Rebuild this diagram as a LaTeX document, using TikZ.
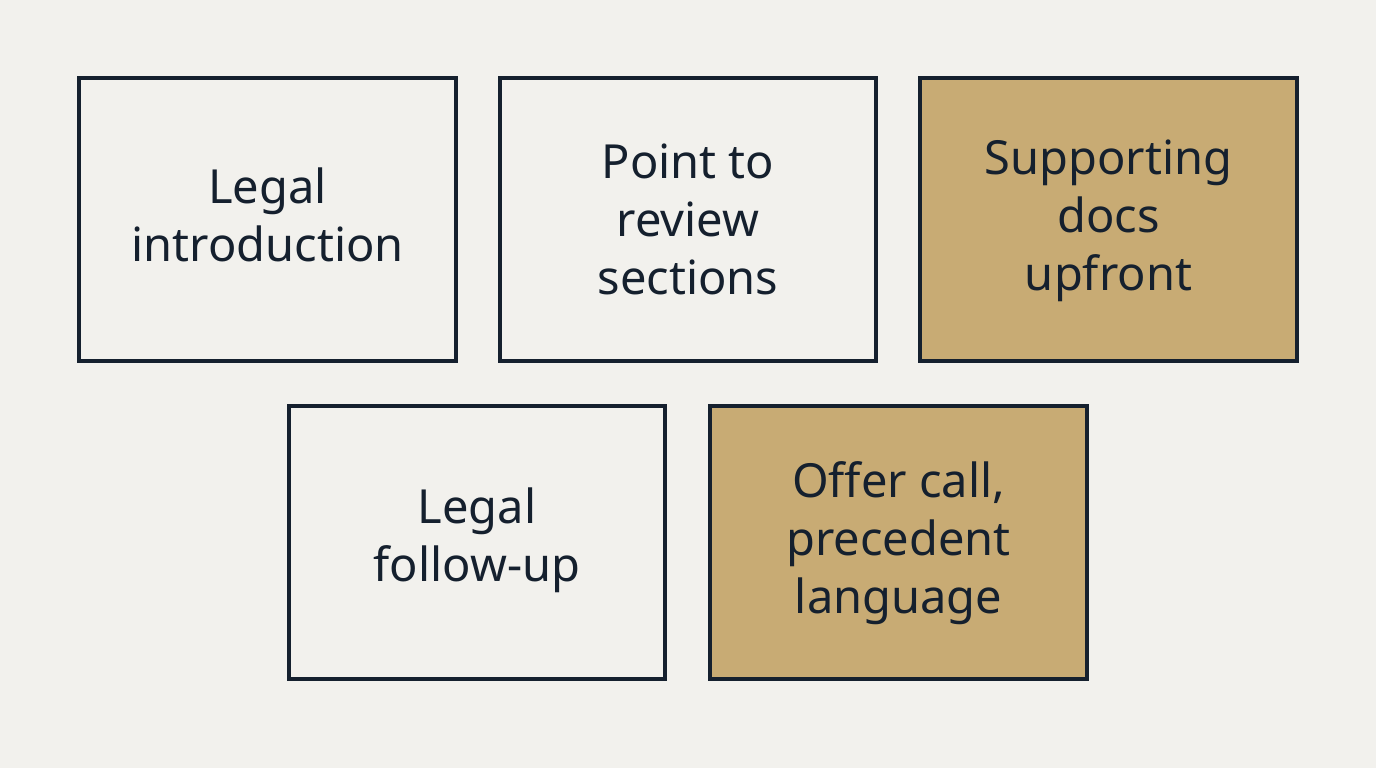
\documentclass[tikz,border=0pt]{standalone}
\usepackage{fontspec}
\setmainfont{Noto Sans}
\definecolor{bg}{HTML}{F2F1ED}
\definecolor{tan}{HTML}{C8AB74}
\definecolor{ink}{HTML}{15202E}
\begin{document}
\begin{tikzpicture}[x=1pt,y=-1pt,
  box/.style={draw=ink,line width=3.5pt,fill=bg},
  tbox/.style={box,fill=tan},
  lbl/.style={text=ink,align=center,font=\fontsize{47}{58}\selectfont}]
\fill[bg] (0,0) rectangle (1376,768);
\useasboundingbox (0,0) rectangle (1376,768);
\draw[box] (79,78) rectangle (456,361); \node[lbl] (a) at (267.5,215) {Legal\\introduction};
\draw[box] (500,78) rectangle (876,361); \node[lbl] (b) at (688,219) {Point to\\review\\sections};
\draw[tbox] (920,78) rectangle (1297,361); \node[lbl] (c) at (1108.5,221) {Supporting\\docs\\upfront};
\draw[box] (289,406) rectangle (665,679); \node[lbl] (d) at (477,540) {Legal\\follow-up};
\draw[tbox] (710,406) rectangle (1087,679); \node[lbl] (e) at (898.5,543) {Offer call,\\precedent\\language};
\end{tikzpicture}
\end{document}
